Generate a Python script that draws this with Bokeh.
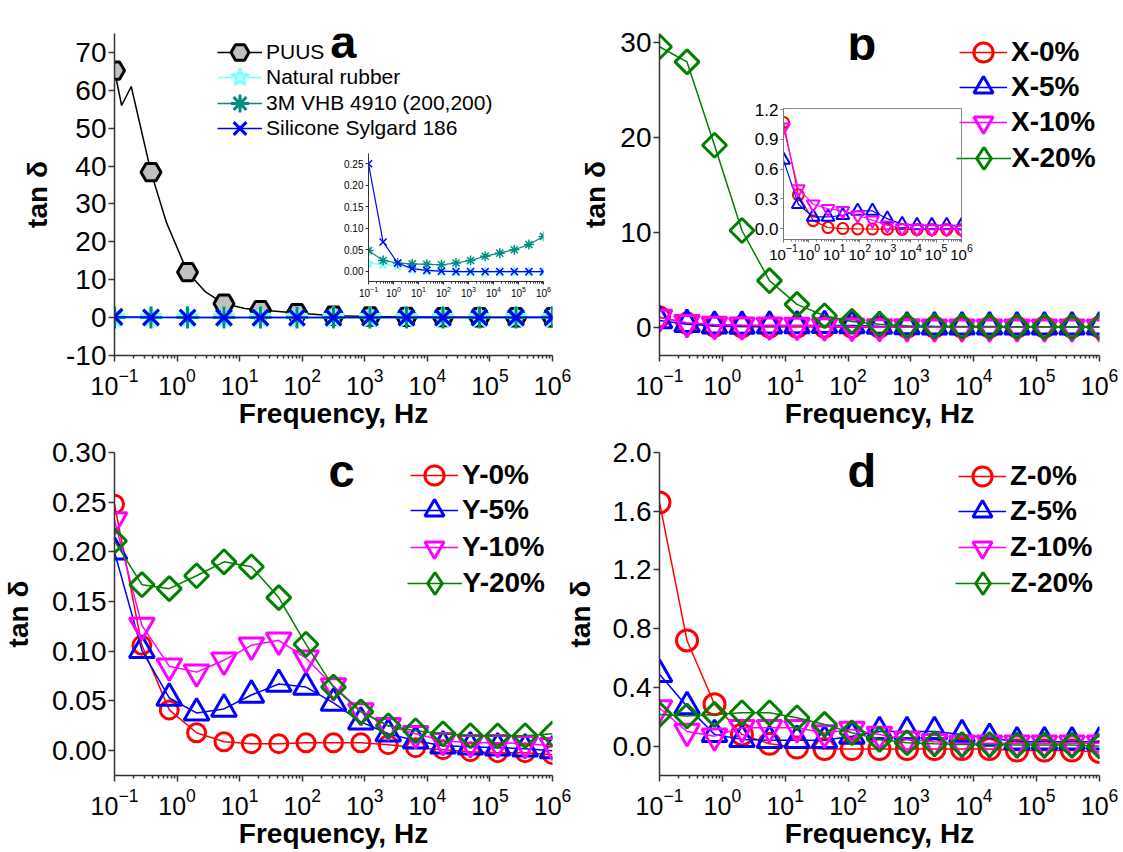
import math
from bokeh.plotting import figure
from bokeh.models import (FixedTicker, LogTickFormatter, PrintfTickFormatter, Legend, LegendItem,
                          Label, GridBox, Range1d)
from bokeh.embed import file_html
from bokeh.resources import INLINE

# ---------------- data ----------------
freq13 = [0.1, 0.383, 1.47, 5.62, 21.5, 82.5, 316, 1210, 4640, 17800, 68100, 261000, 1000000]
freq17 = [0.1, 0.274, 0.75, 2.05, 5.62, 15.4, 42.2, 115, 316, 866, 2370, 6490, 17800, 48700,
          133000, 365000, 1000000]

# panel a
a_labels = ["PUUS", "Natural rubber", "3M VHB 4910 (200,200)", "Silicone Sylgard 186"]
puus = [65.2, 38.4, 12.0, 3.7, 2.0, 1.2, 0.5, 0.3, 0.2, 0.15, 0.1, 0.1, 0.1]
puus_line_f = [0.1, 0.13, 0.185, 0.383, 0.68, 1.47, 2.88, 5.62, 12.1, 21.5, 82.5, 316, 1210,
               4640, 17800, 68100, 261000, 1000000]
puus_line_v = [65.2, 56.0, 61.0, 38.4, 25.0, 12.0, 6.7, 3.7, 2.4, 2.0, 1.2, 0.5, 0.3, 0.2,
               0.15, 0.1, 0.1, 0.1]
natural_rubber = [0.018, 0.016, 0.013, 0.004, 0.001, -0.001, -0.002, -0.002, -0.002, -0.002,
                  -0.002, -0.002, -0.002]
vhb4910 = [0.048, 0.025, 0.019, 0.017, 0.016, 0.015, 0.019, 0.025, 0.035, 0.042, 0.050, 0.062, 0.081]
sylgard = [0.250, 0.068, 0.019, 0.006, 0.002, 0.0, -0.001, -0.001, -0.001, -0.001, -0.001,
           -0.001, -0.001]

# panel b (main, 17 points)
b_labels = ["X-0%", "X-5%", "X-10%", "X-20%"]
b_x0 = [1.07, 0.40, 0.10, 0.03, 0.01, 0.0, 0.0, -0.005, -0.005, -0.01, -0.01, -0.01, -0.01,
        -0.01, -0.01, -0.01, -0.01]
b_x5 = [0.70, 0.30, 0.13, 0.11, 0.13, 0.16, 0.18, 0.17, 0.10, 0.05, 0.04, 0.03, 0.03, 0.03,
        0.03, 0.03, 0.03]
b_x10 = [1.02, 0.45, 0.27, 0.21, 0.19, 0.16, 0.11, 0.06, 0.02, 0.0, -0.005, -0.01, -0.01,
         -0.01, -0.01, -0.01, -0.01]
b_x20 = [29.6, 28.0, 19.2, 10.2, 4.9, 2.4, 1.2, 0.6, 0.3, 0.15, 0.1, 0.06, 0.05, 0.04, 0.03,
         0.02, 0.01]
# panel b inset (13 points)
ib_x0 = [1.07, 0.34, 0.08, 0.01, 0.0, -0.003, -0.005, -0.006, -0.008, -0.01, -0.01, -0.01, -0.01]
ib_x5 = [0.69, 0.245, 0.117, 0.117, 0.134, 0.178, 0.178, 0.10, 0.043, 0.033, 0.033, 0.033, 0.03]
ib_x10 = [1.02, 0.40, 0.245, 0.20, 0.18, 0.134, 0.084, 0.033, 0.006, 0.0, -0.005, -0.005, -0.01]

# panel c
c_labels = ["Y-0%", "Y-5%", "Y-10%", "Y-20%"]
c_y0 = [0.248, 0.106, 0.041, 0.018, 0.009, 0.007, 0.007, 0.008, 0.008, 0.008, 0.006, 0.003,
        0.001, -0.001, -0.002, -0.002, -0.004]
c_y5 = [0.200, 0.101, 0.053, 0.038, 0.042, 0.056, 0.067, 0.064, 0.048, 0.029, 0.017, 0.010,
        0.005, 0.004, 0.003, 0.002, 0.000]
c_y10 = [0.232, 0.126, 0.085, 0.079, 0.091, 0.106, 0.111, 0.093, 0.065, 0.040, 0.025, 0.017,
         0.010, 0.008, 0.008, 0.007, 0.005]
c_y20 = [0.211, 0.167, 0.163, 0.176, 0.190, 0.185, 0.154, 0.107, 0.064, 0.039, 0.025, 0.020,
         0.017, 0.015, 0.015, 0.015, 0.017]

# panel d
d_labels = ["Z-0%", "Z-5%", "Z-10%", "Z-20%"]
d_z0 = [1.66, 0.72, 0.285, 0.08, 0.016, -0.01, -0.02, -0.02, -0.02, -0.02, -0.02, -0.02,
        -0.02, -0.03, -0.03, -0.03, -0.04]
d_z5 = [0.49, 0.27, 0.08, 0.046, 0.04, 0.04, 0.04, 0.068, 0.10, 0.10, 0.10, 0.08, 0.055, 0.03,
        0.03, 0.03, 0.03]
d_z10 = [0.26, 0.10, 0.068, 0.125, 0.125, 0.125, 0.09, 0.114, 0.08, 0.046, 0.03, 0.02, 0.02,
         0.02, 0.02, 0.02, 0.02]
d_z20 = [0.216, 0.205, 0.216, 0.227, 0.227, 0.193, 0.148, 0.091, 0.046, 0.023, 0.016, 0.011,
         0.011, 0.007, 0.007, 0.007, 0.0]

# tick values
decades = [0.1, 1, 10, 100, 1e3, 1e4, 1e5, 1e6]
minor_decade_ticks = [m * d for d in decades[:-1] for m in range(2, 10)]
a_yticks = [-10, 0, 10, 20, 30, 40, 50, 60, 70]
b_yticks = [0, 10, 20, 30]
c_yticks = [0.0, 0.05, 0.10, 0.15, 0.20, 0.25, 0.30]
d_yticks = [0.0, 0.4, 0.8, 1.2, 1.6, 2.0]
ia_yticks = [0.0, 0.05, 0.10, 0.15, 0.20, 0.25]
ib_yticks = [0.0, 0.3, 0.6, 0.9, 1.2]

# ---------------- styling ----------------
RED, BLUE, MAG, GREEN = "#FF0000", "#0000FF", "#FF00FF", "#007F00"
TEAL, CYAN, GRAYF = "#008C82", "#80FFFF", "#C0C0C0"
AX = "#333333"
FONT = "Liberation Sans"


def base_fig(w, h, yr, yticks, yfmt, bl, br, bt, bb, ytick_fs, xtick_fs, ax_w=1.5,
             tick_out=(6, 3), ylabel=None, xlabel=None, ylab_standoff=10, xlab_standoff=0,
             xl_standoff=6, yl_standoff=2, outline=None, axcolor=AX):
    p = figure(width=w, height=h, x_axis_type="log", x_range=Range1d(0.1, 1e6),
               y_range=Range1d(*yr), output_backend="svg", toolbar_location=None,
               min_border_left=bl, min_border_right=br, min_border_top=bt, min_border_bottom=bb)
    p.grid.visible = False
    p.outline_line_color = outline
    p.background_fill_alpha = 0
    p.border_fill_alpha = 0
    p.xaxis.ticker = FixedTicker(ticks=decades, minor_ticks=minor_decade_ticks)
    p.xaxis.formatter = LogTickFormatter()
    p.yaxis.ticker = FixedTicker(ticks=yticks, minor_ticks=[])
    p.yaxis.formatter = PrintfTickFormatter(format=yfmt)
    for ax in (p.xaxis[0], p.yaxis[0]):
        ax.axis_line_color = axcolor
        ax.axis_line_width = ax_w
        ax.major_tick_line_color = axcolor
        ax.major_tick_line_width = ax_w
        ax.minor_tick_line_color = axcolor
        ax.minor_tick_line_width = ax_w
        ax.major_tick_in = 0
        ax.minor_tick_in = 0
        ax.major_tick_out = tick_out[0]
        ax.minor_tick_out = tick_out[1]
        ax.major_label_text_font = FONT
        ax.major_label_text_color = "black"
        ax.axis_label_text_font = FONT
        ax.axis_label_text_font_style = "bold"
        ax.axis_label_text_font_size = "28px"
        ax.axis_label_text_color = "black"
    p.yaxis.major_label_text_font_size = ytick_fs
    p.xaxis.major_label_text_font_size = xtick_fs
    p.xaxis.major_label_standoff = xl_standoff
    p.yaxis.major_label_standoff = yl_standoff
    if ylabel:
        p.yaxis.axis_label = ylabel
        p.yaxis.axis_label_standoff = ylab_standoff
    if xlabel:
        p.xaxis.axis_label = xlabel
        p.xaxis.axis_label_standoff = xlab_standoff
    return p


def series(p, x, y, color, marker, size, lw=3, line_w=1.5, fill=None, angle=0.0):
    ln = p.line(x, y, line_color=color, line_width=line_w)
    sc = p.scatter(x, y, marker=marker, size=size, line_color=color, line_width=lw,
                   fill_color=fill, fill_alpha=1.0 if fill else 0.0, angle=angle)
    return ln, sc


def one_legend(p, label, renderers, vx, vy, fs, style, gw, gh, standoff):
    lg = Legend(items=[LegendItem(label=label, renderers=list(renderers))], location=(vx, vy),
                glyph_width=gw, glyph_height=gh, label_height=20, spacing=0,
                label_standoff=standoff, padding=0, margin=0, background_fill_alpha=0,
                border_line_alpha=0, label_text_font=FONT, label_text_font_size=fs,
                label_text_font_style=style, label_text_color="black")
    p.add_layout(lg)


def add_legend(p, labels, rends, vx, centers, frame_bottom, fs, style, gw, gh, diamond=None):
    for i, (lab, r, c) in enumerate(zip(labels, rends, centers)):
        if diamond is not None and i == len(labels) - 1:
            # legend key for the rotated-square (diamond) series
            dgw, dgh = gw + 7, gh + 8
            one_legend(p, lab, [r[0], diamond], vx - 3.5, frame_bottom - c - dgh / 2, fs, style,
                       dgw, dgh, 1)
        else:
            one_legend(p, lab, r, vx, frame_bottom - c - gh / 2, fs, style, gw, gh, 4)


def legend_diamond(p, x, y, color):
    # key-only renderer: zero-size markers leave the plot untouched; the legend sizes its key itself
    return p.scatter(x, y, marker="diamond", size=0, line_color=color, line_width=3,
                     fill_alpha=0)


def letter(p, x, y, t):
    p.add_layout(Label(x=x, y=y, text=t, text_align="center", text_baseline="alphabetic",
                       text_font=FONT, text_font_style="bold", text_font_size="47px",
                       text_color="black"))


XL = "Frequency, Hz"
YL = "tan δ"

# ---------------- panel a ----------------
pa = base_fig(580, 440, (-10, 75), a_yticks, "%d", 112, 27, 33, 85, "28px", "25px",
              ylabel=YL, xlabel=XL, ylab_standoff=10)
pl = pa.line(puus_line_f, puus_line_v, line_color="black", line_width=1.5)
ps = pa.scatter(freq13, puus, marker="hex", size=20, line_color="black", line_width=3,
                fill_color=GRAYF)
r_nr = series(pa, freq13, natural_rubber, CYAN, "star", 22)
r_vhb = series(pa, freq13, vhb4910, TEAL, "asterisk", 22)
r_sil = series(pa, freq13, sylgard, BLUE, "x", 22)
add_legend(pa, a_labels, [(pl, ps), r_nr, r_vhb, r_sil], 103, [52.3, 77.3, 102.7, 127.7], 355,
           "21px", "normal", 45, 46)
letter(pa, 453, 72.8, "a")

# inset a
ia = base_fig(223, 155, (-0.024, 0.274), ia_yticks, "%.2f", 38, 10, 8, 19, "10px", "10px",
              ax_w=1, tick_out=(3, 2), xl_standoff=1, yl_standoff=2)
series(ia, freq13, natural_rubber, CYAN, "star", 10, lw=1.5, line_w=1.2)
series(ia, freq13, vhb4910, TEAL, "asterisk", 10, lw=1.5, line_w=1.2)
series(ia, freq13, sylgard, BLUE, "x", 10, lw=1.5, line_w=1.2)

# ---------------- panel b ----------------
pb = base_fig(563, 440, (-3, 31), b_yticks, "%d", 99, 24, 33, 84, "28px", "25px",
              ylabel=YL, xlabel=XL, ylab_standoff=6)
rb = [series(pb, freq17, b_x0, RED, "circle", 20),
      series(pb, freq17, b_x5, BLUE, "triangle", 25),
      series(pb, freq17, b_x10, MAG, "inverted_triangle", 25),
      series(pb, freq17, b_x20, GREEN, "square", 17, angle=math.pi / 4)]
add_legend(pb, b_labels, rb, 300, [52.7, 88.3, 123.3, 159.3], 356, "28px", "bold", 48, 52,
           diamond=legend_diamond(pb, freq17, b_x20, GREEN))
letter(pb, 166, 29.9, "b")

# inset b
ib = base_fig(230, 165, (-0.11, 1.21), ib_yticks, "%.1f", 38, 14, 8, 26, "17px", "15px",
              ax_w=1, tick_out=(3, 2), xl_standoff=1, yl_standoff=2, outline="#888888",
              axcolor="#777777")
series(ib, freq13, ib_x0, RED, "circle", 11, lw=2, line_w=1.2)
series(ib, freq13, ib_x5, BLUE, "triangle", 13, lw=2, line_w=1.2)
series(ib, freq13, ib_x10, MAG, "inverted_triangle", 13, lw=2, line_w=1.2)

# ---------------- panel c ----------------
pc = base_fig(580, 432, (-0.025, 0.30), c_yticks, "%.2f", 112, 28, 32, 77, "28px", "25px",
              ylabel=YL, xlabel=XL, ylab_standoff=15)
rc = [series(pc, freq17, c_y0, RED, "circle", 18),
      series(pc, freq17, c_y5, BLUE, "triangle", 25),
      series(pc, freq17, c_y10, MAG, "inverted_triangle", 25),
      series(pc, freq17, c_y20, GREEN, "square", 17, angle=math.pi / 4)]
add_legend(pc, c_labels, rc, 296, [475, 510, 547, 583], 775, "28px", "bold", 48, 52,
           diamond=legend_diamond(pc, freq17, c_y20, GREEN))
letter(pc, 424, 0.282, "c")

# ---------------- panel d ----------------
pd = base_fig(563, 432, (-0.2, 2.0), d_yticks, "%.1f", 99, 24, 32, 77, "28px", "25px",
              ylabel=YL, xlabel=XL, ylab_standoff=14)
rd = [series(pd, freq17, d_z0, RED, "circle", 21),
      series(pd, freq17, d_z5, BLUE, "triangle", 25),
      series(pd, freq17, d_z10, MAG, "inverted_triangle", 25),
      series(pd, freq17, d_z20, GREEN, "square", 17, angle=math.pi / 4)]
add_legend(pd, d_labels, rd, 299, [476, 511, 547, 583], 775, "28px", "bold", 48, 52,
           diamond=legend_diamond(pd, freq17, d_z20, GREEN))
letter(pd, 166, 1.875, "d")

grid = GridBox(children=[(pa, 0, 0, 6, 4), (pb, 0, 3, 6, 4), (pc, 5, 0, 2, 4), (pd, 5, 3, 2, 4),
                         (ia, 2, 1, 2, 1), (ib, 1, 5, 2, 1)],
               rows=["100px", "45px", "120px", "35px", "120px", "20px", "412px"],
               cols=["330px", "223px", "7px", "20px", "165px", "230px", "148px"])

open("out.html", "w").write(file_html(grid, INLINE, title="tan delta"))
